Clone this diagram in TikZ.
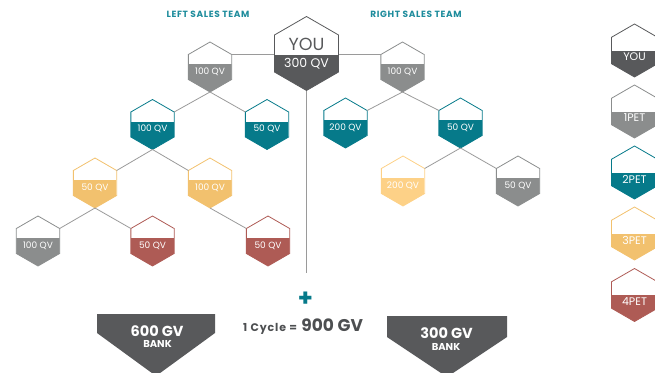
\documentclass[tikz,border=0pt]{standalone}
\usepackage{fontspec}
\setmainfont{Poppins}
\usetikzlibrary{shapes.geometric}
\definecolor{darkg}{HTML}{58595B}
\definecolor{midg}{HTML}{8B8D8D}
\definecolor{tealc}{HTML}{067A8A}
\definecolor{yellc}{HTML}{F2C16E}
\definecolor{lyellc}{HTML}{FDD187}
\definecolor{redc}{HTML}{AE5B55}
\definecolor{linec}{HTML}{9A9A9A}
\definecolor{headc}{HTML}{1E8C9C}
\definecolor{textg}{HTML}{4D4F51}
\tikzset{
  hexbase/.style={regular polygon, regular polygon sides=6, shape border rotate=30,
    inner sep=0pt, outer sep=0pt, line width=0.8pt},
  hex/.style 2 args={hexbase, minimum size=50pt, draw=#1,
    path picture={\fill[#2] ([yshift=3pt]path picture bounding box.west) rectangle (path picture bounding box.south east);}},
  bighex/.style 2 args={hexbase, minimum size=74pt, draw=#1,
    path picture={\fill[#2] ([yshift=-1.5pt]path picture bounding box.west) rectangle (path picture bounding box.south east);}},
  leghex/.style 2 args={hexbase, minimum size=53pt, draw=#1,
    path picture={\fill[#2] (path picture bounding box.west) rectangle (path picture bounding box.south east);}},
  qv/.style={text=white, font=\fontsize{9}{10}\selectfont, inner sep=0pt},
  legtxt/.style={text=white, font=\fontsize{11}{12}\selectfont, inner sep=0pt},
  link/.style={draw=linec, line width=0.8pt},
  head/.style={text=headc, font=\bfseries\fontsize{9}{10}\selectfont\addfontfeatures{LetterSpace=7}, inner sep=0pt},
  bank/.style={fill=darkg},
  banktop/.style={text=white, font=\bfseries\fontsize{14.5}{15}\selectfont, inner sep=0pt, anchor=base},
  banksub/.style={text=white, font=\bfseries\fontsize{10}{11}\selectfont, inner sep=0pt, anchor=base},
}
\begin{document}
\begin{tikzpicture}[x=1pt,y=-1pt]
\useasboundingbox (0,0) rectangle (655,372);
% headings
\node[head] (lh) at (208,14.5) {LEFT SALES TEAM};
\node[head] (rh) at (416,14.5) {RIGHT SALES TEAM};
% hexagons
\node[bighex={darkg}{darkg}] (you) at (306.5,53.5) {};
\node[hex={midg}{midg}] (l1) at (210,67) {};
\node[hex={midg}{midg}] (r1) at (402.5,67) {};
\node[hex={tealc}{tealc}] (l2a) at (152.5,124.5) {};
\node[hex={tealc}{tealc}] (l2b) at (267,124.5) {};
\node[hex={tealc}{tealc}] (r2a) at (345.5,123) {};
\node[hex={tealc}{tealc}] (r2b) at (460.5,123) {};
\node[hex={yellc}{yellc}] (l3a) at (95,183) {};
\node[hex={yellc}{yellc}] (l3b) at (210,183) {};
\node[hex={lyellc}{lyellc}] (r3a) at (403,181) {};
\node[hex={midg}{midg}] (r3b) at (518,181) {};
\node[hex={midg}{midg}] (l4a) at (38,241) {};
\node[hex={redc}{redc}] (l4b) at (152.5,241) {};
\node[hex={redc}{redc}] (l4c) at (268,241) {};
% hex texts
\node[text=darkg, font=\fontsize{17.5}{18}\selectfont, inner sep=0pt] (youtxt) at ([yshift=9.5pt]you.center) {YOU};
\node[qv, font=\fontsize{12.5}{13}\selectfont] (youqv) at ([yshift=-10.5pt]you.center) {300 QV};
\node[qv] (t-l1) at ([yshift=-4.5pt]l1.center) {100 QV};
\node[qv] (t-r1) at ([yshift=-4.5pt]r1.center) {100 QV};
\node[qv] (t-l2a) at ([yshift=-4.5pt]l2a.center) {100 QV};
\node[qv] (t-l2b) at ([yshift=-4.5pt]l2b.center) {50 QV};
\node[qv] (t-r2a) at ([yshift=-4.5pt]r2a.center) {200 QV};
\node[qv] (t-r2b) at ([yshift=-4.5pt]r2b.center) {50 QV};
\node[qv] (t-l3a) at ([yshift=-4.5pt]l3a.center) {50 QV};
\node[qv] (t-l3b) at ([yshift=-4.5pt]l3b.center) {100 QV};
\node[qv] (t-r3a) at ([yshift=-4.5pt]r3a.center) {200 QV};
\node[qv] (t-r3b) at ([yshift=-4.5pt]r3b.center) {50 QV};
\node[qv] (t-l4a) at ([yshift=-4.5pt]l4a.center) {100 QV};
\node[qv] (t-l4b) at ([yshift=-4.5pt]l4b.center) {50 QV};
\node[qv] (t-l4c) at ([yshift=-4.5pt]l4c.center) {50 QV};
% connectors
\draw[link] (l1.30) -- (l1.30 -| you.west);
\draw[link] (r1.150) -- (r1.150 -| you.east);
\coordinate (vend) at (306.5,273);
\draw[link] (you.south) -- (vend);
\draw[link] (l2a.30) -- (l1.south) -- (l2b.150);
\draw[link] (r2a.30) -- (r1.south) -- (r2b.150);
\draw[link] (l3a.30) -- (l2a.south) -- (l3b.150);
\draw[link] (r3a.30) -- (r2b.south) -- (r3b.150);
\draw[link] (l4a.30) -- (l3a.south) -- (l4b.150);
\draw[link] (l3b.south) -- (l4c.150);
% legend
\node[leghex={darkg}{darkg}] (g0) at (634.5,50.5) {};
\node[leghex={midg}{midg}] (g1) at (634.5,111.5) {};
\node[leghex={tealc}{tealc}] (g2) at (634.5,172.5) {};
\node[leghex={yellc}{yellc}] (g3) at (634.5,233.5) {};
\node[leghex={redc}{redc}] (g4) at (634.5,295) {};
\node[legtxt] (tg0) at ([yshift=-6.5pt]g0.center) {YOU};
\node[legtxt] (tg1) at ([yshift=-6.5pt]g1.center) {1PET};
\node[legtxt] (tg2) at ([yshift=-6.5pt]g2.center) {2PET};
\node[legtxt] (tg3) at ([yshift=-6.5pt]g3.center) {3PET};
\node[legtxt] (tg4) at ([yshift=-6.5pt]g4.center) {4PET};
% plus and cycle
\node[text=tealc, font=\bfseries\fontsize{24}{24}\selectfont, inner sep=0pt] (plus) at (305.5,299) {+};
\node[text=textg, font=\bfseries\fontsize{11}{12}\selectfont\addfontfeatures{LetterSpace=8}, inner sep=0pt, anchor=base west] (cyc) at (243,331) {1 Cycle =};
\node[text=textg, font=\bfseries\fontsize{17}{18}\selectfont, inner sep=0pt, anchor=base west] (gv) at ([xshift=4pt]cyc.base east) {900 GV};
% banks
\fill[bank] (97,314) -- (215,314) -- (215,333) -- (156,376) -- (97,333) -- cycle;
\fill[bank] (387,316) -- (507,316) -- (507,337) -- (447,377) -- (387,337) -- cycle;
\node[banktop] (b1) at (157,336) {600 GV};
\node[banksub] (b1s) at (157.5,347.5) {BANK};
\node[banktop] (b2) at (446.5,338) {300 GV};
\node[banksub] (b2s) at (446,350) {BANK};
\end{tikzpicture}
\end{document}
